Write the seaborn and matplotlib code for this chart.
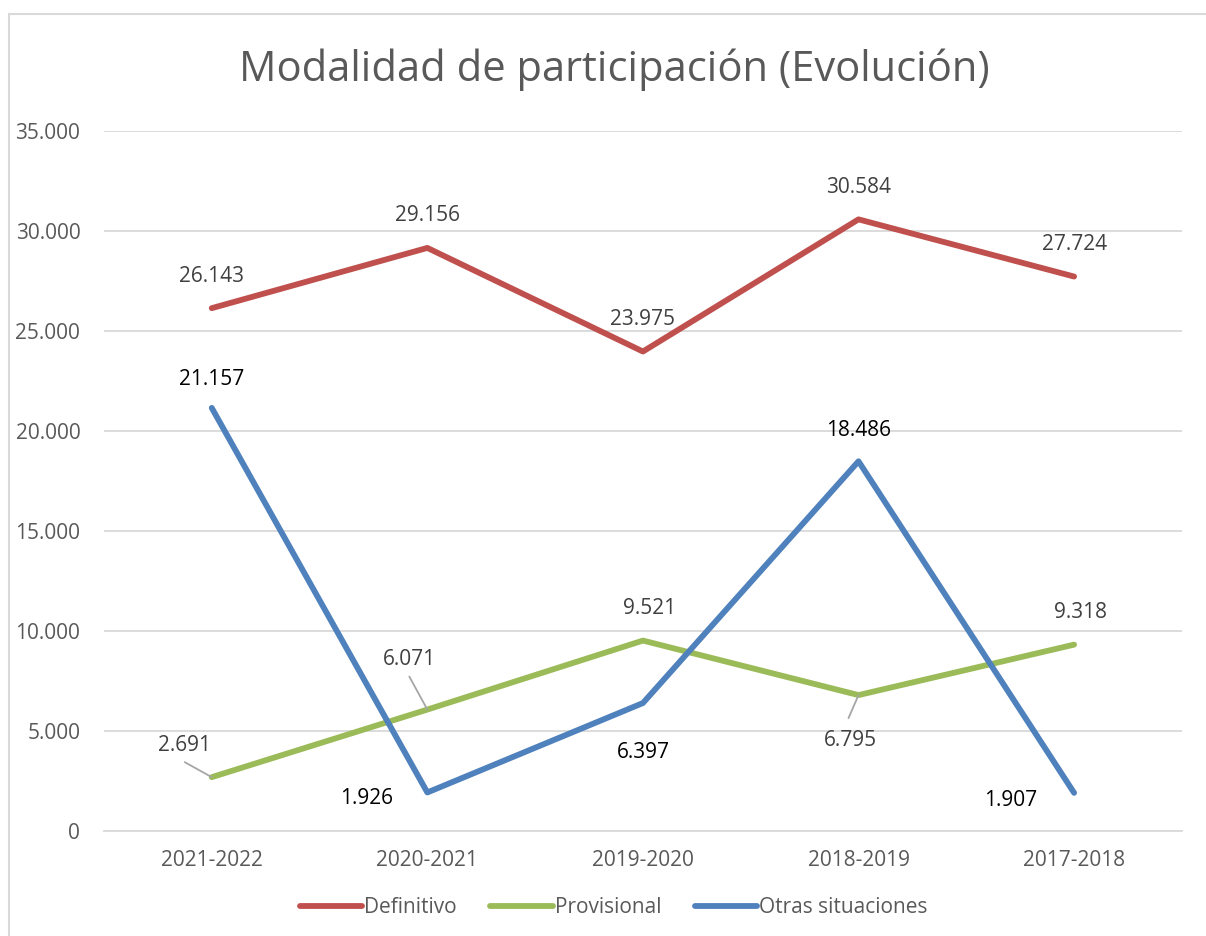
import pandas as pd
import matplotlib.pyplot as plt
import seaborn as sns
from matplotlib.lines import Line2D

# Datos
cursos = ['2021-2022', '2020-2021', '2019-2020', '2018-2019', '2017-2018']
definitivo = [26143, 29156, 23975, 30584, 27724]
provisional = [2691, 6071, 9521, 6795, 9318]
otras = [21157, 1926, 6397, 18486, 1907]
series = ['Definitivo', 'Provisional', 'Otras situaciones']
colores = ['#C0504D', '#9BBB59', '#4F81BD']

df = pd.DataFrame({
    'curso': cursos * 3,
    'valor': definitivo + provisional + otras,
    'serie': [s for s in series for _ in cursos],
})

sns.set_style("white")
plt.rcParams['font.family'] = ['Open Sans', 'DejaVu Sans']

def fmt(v):
    return f"{v:,}".replace(",", ".")

fig = plt.figure(figsize=(12.06, 9.36), dpi=100)
ax = fig.add_axes([0.0862, 0.1122, 0.8938, 0.7478])

sns.lineplot(
    data=df, x='curso', y='valor', hue='serie',
    hue_order=series, palette=colores, linewidth=4.2,
    sort=False, legend=False, ax=ax
)

ax.set_ylim(0, 35000)
ax.set_xlim(-0.5, 4.5)
ax.set_yticks(range(0, 35001, 5000))
ax.set_yticklabels([fmt(v) for v in range(0, 35001, 5000)])
ax.yaxis.grid(True, color='#D9D9D9', linewidth=1.3)
ax.set_axisbelow(True)
for s in ['top', 'right', 'left']:
    ax.spines[s].set_visible(False)
ax.spines['bottom'].set_color('#D9D9D9')
ax.spines['bottom'].set_linewidth(1.3)
ax.tick_params(axis='both', length=0, labelsize=15, labelcolor='#595959')
ax.tick_params(axis='y', pad=17)
ax.tick_params(axis='x', pad=14)
ax.set_xlabel('')
ax.set_ylabel('')

# Etiquetas de datos (offset en pixeles)
lbl_gray = '#404040'
leader = dict(arrowstyle='-', color='#A6A6A6', lw=1.3, shrinkA=0, shrinkB=0)

for i, v in enumerate(definitivo):
    ax.annotate(fmt(v), (i, v), xytext=(0, 32), textcoords='offset pixels',
                ha='center', va='center', fontsize=15, color=lbl_gray)

prov_off = [(-27, 32), (-18, 50), (7, 32), (-8, -45), (6, 32)]
prov_start = {0: (-27, 15), 1: (-18, 33), 3: (-10, -23)}
for i, v in enumerate(provisional):
    dx, dy = prov_off[i]
    ax.annotate(fmt(v), (i, v), xytext=(dx, dy), textcoords='offset pixels',
                ha='center', va='center', fontsize=15, color=lbl_gray)
    if i in prov_start:
        ax.annotate('', (i, v), xytext=prov_start[i], textcoords='offset pixels',
                    arrowprops=leader)

otras_off = [(0, 28), (-61, -6), (0, -49), (0, 31), (-63, -8)]
for i, v in enumerate(otras):
    dx, dy = otras_off[i]
    ax.annotate(fmt(v), (i, v), xytext=(dx, dy), textcoords='offset pixels',
                ha='center', va='center', fontsize=15, color='black')

fig.text(0.509, 0.925, 'Modalidad de participación (Evolución)',
         ha='center', va='center', fontsize=30, color='#595959')

handles = [Line2D([0], [0], color=c, lw=4.2, solid_capstyle='round') for c in colores]
fig.legend(handles, series, loc='center', bbox_to_anchor=(0.509, 0.030),
           ncol=3, frameon=False, fontsize=15, handlelength=3.0,
           handletextpad=0.1, columnspacing=1.6, labelcolor='#595959')

# Borde del area del grafico
fig.add_artist(Line2D([9 / 1206, 9 / 1206], [0, 1 - 14 / 936], color='#D9D9D9', lw=1.5))
fig.add_artist(Line2D([9 / 1206, 1], [1 - 14 / 936, 1 - 14 / 936], color='#D9D9D9', lw=1.5))

fig.savefig('out.png', dpi=100, facecolor='white')
